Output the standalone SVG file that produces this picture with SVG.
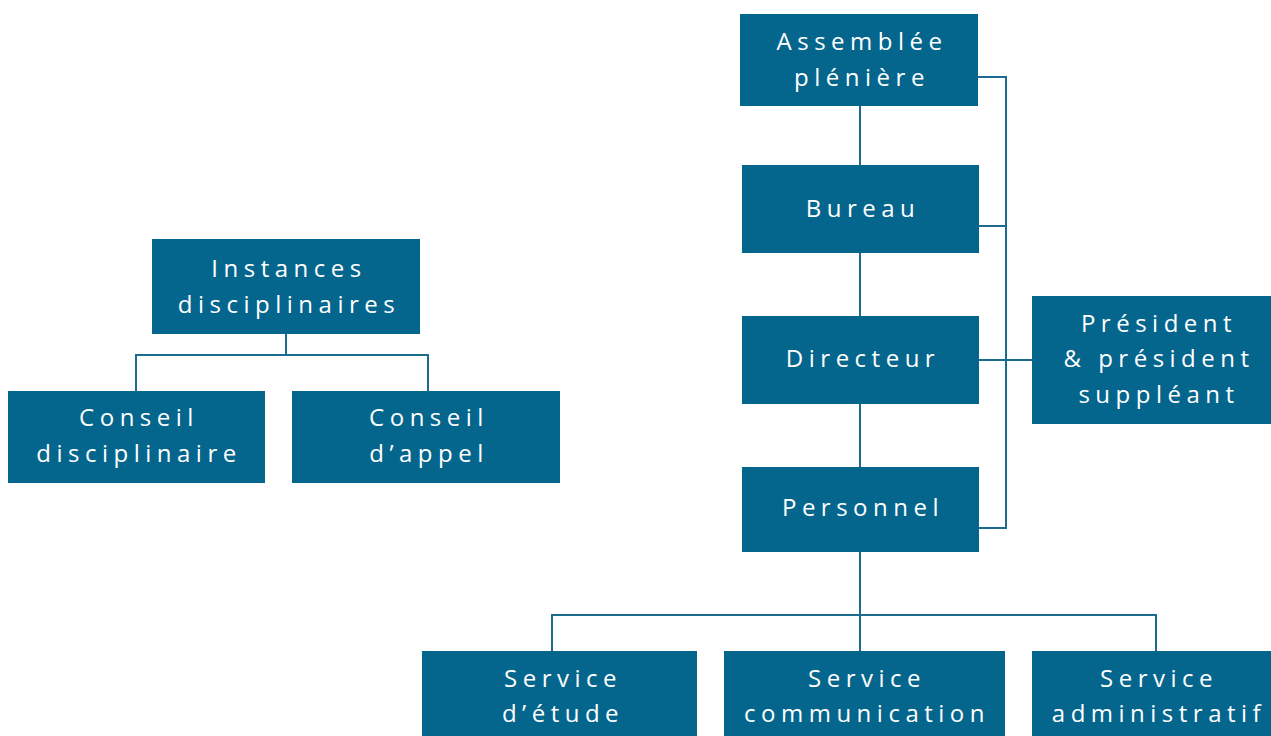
<svg xmlns="http://www.w3.org/2000/svg" width="1271" height="736" viewBox="0 0 1271 736">
<style>
.box{fill:#05668d}
.t{font-family:"Open Sans","Liberation Sans",sans-serif;font-size:24px;fill:#ffffff;text-anchor:middle;letter-spacing:5.5px}
.c{fill:none;stroke:#1a6b8e;stroke-width:2}
</style>
<rect width="1271" height="736" fill="#ffffff"/>
<g id="connectors">
<path class="c" d="M860 106V165M860 253V316M860 404V467M860 552V651"/>
<path class="c" d="M978 77H1006V528H979M979 226H1006M979 360H1032"/>
<path class="c" d="M286 334V355M136 391V355H428V391"/>
<path class="c" d="M552 651V615H1156V651"/>
</g>
<g id="n-assemblee"><rect class="box" x="740" y="14" width="238" height="92"/><text class="t" x="862" y="50">Assemblée</text><text class="t" x="862" y="86">plénière</text></g>
<g id="n-bureau"><rect class="box" x="742" y="165" width="237" height="88"/><text class="t" x="863" y="217">Bureau</text></g>
<g id="n-directeur"><rect class="box" x="742" y="316" width="237" height="88"/><text class="t" x="863" y="367">Directeur</text></g>
<g id="n-personnel"><rect class="box" x="742" y="467" width="237" height="85"/><text class="t" x="863" y="516">Personnel</text></g>
<g id="n-president"><rect class="box" x="1032" y="296" width="239" height="128"/><text class="t" x="1159" y="332">Président</text><text class="t" x="1159" y="367">&amp; président</text><text class="t" x="1159" y="403">suppléant</text></g>
<g id="n-instances"><rect class="box" x="152" y="239" width="268" height="95"/><text class="t" x="289" y="277">Instances</text><text class="t" x="289" y="313">disciplinaires</text></g>
<g id="n-conseil-disc"><rect class="box" x="8" y="391" width="257" height="92"/><text class="t" x="139" y="426">Conseil</text><text class="t" x="139" y="462">disciplinaire</text></g>
<g id="n-conseil-appel"><rect class="box" x="292" y="391" width="268" height="92"/><text class="t" x="429" y="426">Conseil</text><text class="t" x="429" y="462">d’appel</text></g>
<g id="n-etude"><rect class="box" x="422" y="651" width="275" height="85"/><text class="t" x="563" y="687">Service</text><text class="t" x="563" y="722">d’étude</text></g>
<g id="n-communication"><rect class="box" x="724" y="651" width="281" height="85"/><text class="t" x="867" y="687">Service</text><text class="t" x="867" y="722">communication</text></g>
<g id="n-administratif"><rect class="box" x="1032" y="651" width="239" height="85"/><text class="t" x="1159" y="687">Service</text><text class="t" x="1159" y="722">administratif</text></g>
</svg>
